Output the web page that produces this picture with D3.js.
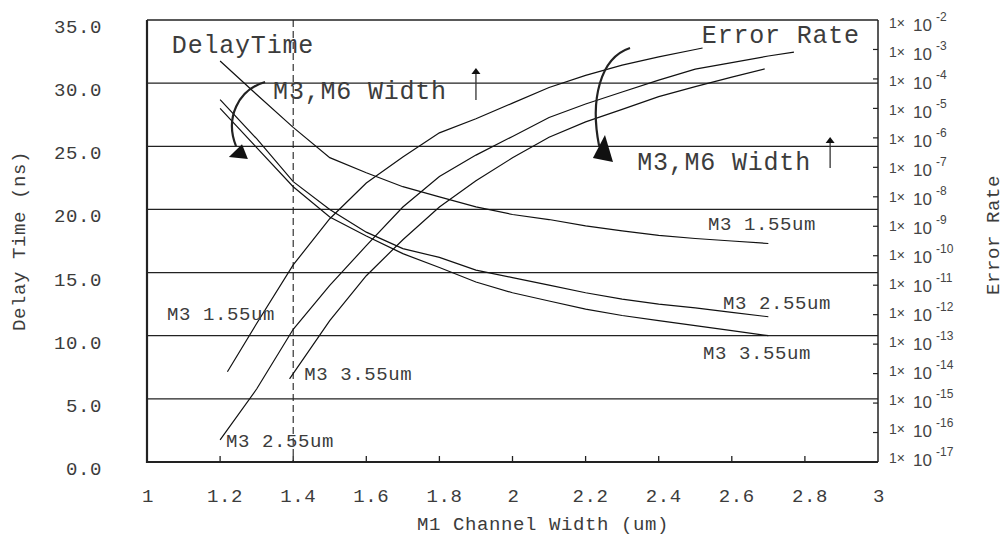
<!DOCTYPE html>
<html>
<head>
<meta charset="utf-8">
<script src="https://cdn.jsdelivr.net/npm/d3@7"></script>
<style>
  html, body { margin: 0; padding: 0; background: #fff; }
  svg { display: block; }
</style>
</head>
<body>
<svg id="chart" width="1005" height="538"></svg>
<script>
// ---- data ----------------------------------------------------------------
// M1 channel width samples (um) for the delay-time curves
const delayX = [1.2, 1.3, 1.4, 1.5, 1.6, 1.7, 1.8, 1.9, 2.0, 2.1, 2.2, 2.3, 2.4, 2.5, 2.6, 2.7];
// delay time (ns) for three M3 widths
const delay155 = [31.75, 29.1, 26.5, 24.1, 22.9, 21.8, 21.0, 20.2, 19.6, 19.2, 18.7, 18.3, 17.95, 17.7, 17.5, 17.3];
const delay255 = [28.7, 25.6, 22.2, 20.0, 18.2, 16.9, 16.2, 15.2, 14.6, 14.0, 13.4, 12.9, 12.5, 12.2, 11.85, 11.5];
const delay355 = [28.0, 24.9, 21.8, 19.4, 17.9, 16.5, 15.4, 14.25, 13.4, 12.75, 12.1, 11.6, 11.2, 10.8, 10.4, 10.0];

// error-rate curves (log scale, right axis)
const er155X = [1.22, 1.3, 1.4, 1.5, 1.6, 1.7, 1.8, 1.9, 2.0, 2.1, 2.2, 2.3, 2.4, 2.5, 2.52];
const er155 = [1.15e-14, 5.0e-13, 4.9e-11, 1.8e-9, 2.95e-8, 2.24e-7, 1.48e-6, 4.47e-6, 1.51e-5, 5.13e-5, 1.32e-4, 2.95e-4, 5.62e-4, 1.0e-3, 1.12e-3];
const er255X = [1.2, 1.3, 1.4, 1.5, 1.6, 1.7, 1.8, 1.9, 2.0, 2.1, 2.2, 2.3, 2.4, 2.5, 2.6, 2.7, 2.77];
const er255 = [5.6e-17, 3.0e-15, 3.2e-13, 9.8e-12, 2.2e-10, 4.5e-9, 4.9e-8, 2.6e-7, 1.12e-6, 4.9e-6, 1.41e-5, 3.6e-5, 9.1e-5, 2.14e-4, 3.6e-4, 6.0e-4, 8.1e-4];
const er355X = [1.39, 1.5, 1.6, 1.7, 1.8, 1.9, 2.0, 2.1, 2.2, 2.3, 2.4, 2.5, 2.6, 2.69];
const er355 = [6.6e-15, 6.3e-13, 2.1e-11, 3.5e-10, 4.5e-9, 3.5e-8, 2.1e-7, 1.05e-6, 3.5e-6, 9.3e-6, 2.5e-5, 5.5e-5, 1.15e-4, 2.2e-4];

// axis ticks
const xTicks = [1, 1.2, 1.4, 1.6, 1.8, 2, 2.2, 2.4, 2.6, 2.8, 3];
const xTickLabels = ["1", "1.2", "1.4", "1.6", "1.8", "2", "2.2", "2.4", "2.6", "2.8", "3"];
const yTicks = [0, 5, 10, 15, 20, 25, 30, 35];
const yTickLabels = ["0.0", "5.0", "10.0", "15.0", "20.0", "25.0", "30.0", "35.0"];
const erExponents = [-2, -3, -4, -5, -6, -7, -8, -9, -10, -11, -12, -13, -14, -15, -16, -17];

// reference width marker (um)
const markerWidth = 1.4;

// ---- layout ----------------------------------------------------------------
const margin = { left: 147, top: 20, right: 127, bottom: 76 };
const W = 1005, H = 538;
const iw = W - margin.left - margin.right;
const ih = H - margin.top - margin.bottom;

const MONO = '"Liberation Mono", "Courier New", Courier, monospace';
const SANS = '"Liberation Sans", Arial, Helvetica, sans-serif';
const INK = "#111";
const TXT = "#3c3c3c";

const svg = d3.select("#chart");
const g = svg.append("g").attr("transform", `translate(${margin.left},${margin.top})`);

const x = d3.scaleLinear().domain([1, 3]).range([0, iw]);
const y = d3.scaleLinear().domain([0, 35]).range([ih, 0]);
const yR = d3.scaleLog().domain([1e-17, 1e-2]).range([ih, 0]);

// ---- grid lines ----
g.append("g").selectAll("line").data(yTicks.filter(v => v > 0 && v < 35)).join("line")
  .attr("x1", 0).attr("x2", iw)
  .attr("y1", d => y(d)).attr("y2", d => y(d))
  .attr("stroke", "#222").attr("stroke-width", 1.3);

// dashed marker
g.append("line")
  .attr("x1", x(markerWidth)).attr("x2", x(markerWidth))
  .attr("y1", 0).attr("y2", ih)
  .attr("stroke", "#222").attr("stroke-width", 1.1)
  .attr("stroke-dasharray", "7,4");

// ---- frame ----
g.append("line").attr("x1", 0).attr("x2", iw).attr("y1", 0).attr("y2", 0)
  .attr("stroke", "#222").attr("stroke-width", 1.5);
g.append("line").attr("x1", iw).attr("x2", iw).attr("y1", 0).attr("y2", ih)
  .attr("stroke", "#222").attr("stroke-width", 1.5);
g.append("line").attr("x1", 0).attr("x2", 0).attr("y1", 0).attr("y2", ih + 1)
  .attr("stroke", "#222").attr("stroke-width", 2.2);
g.append("line").attr("x1", -1).attr("x2", iw).attr("y1", ih).attr("y2", ih)
  .attr("stroke", "#222").attr("stroke-width", 2.2);

// ---- bottom axis ----
const xAxis = g.append("g");
xAxis.selectAll("line").data(xTicks.slice(1, -1)).join("line")
  .attr("x1", d => x(d)).attr("x2", d => x(d))
  .attr("y1", ih).attr("y2", ih - 6)
  .attr("stroke", "#222").attr("stroke-width", 1.3);
xAxis.selectAll("text").data(xTicks).join("text")
  .attr("x", (d, i) => x(d) + (xTickLabels[i].length > 1 ? 5 : 1))
  .attr("y", ih + 40)
  .attr("text-anchor", "middle")
  .attr("font-family", MONO).attr("font-size", 19).attr("letter-spacing", 0.6)
  .attr("fill", TXT)
  .text((d, i) => xTickLabels[i]);

// ---- left axis labels ----
g.append("g").selectAll("text").data(yTicks).join("text")
  .attr("x", -45).attr("y", d => y(d) + 13)
  .attr("text-anchor", "end")
  .attr("font-family", MONO).attr("font-size", 19).attr("letter-spacing", 0.6)
  .attr("fill", TXT)
  .text((d, i) => yTickLabels[i]);

// ---- right (log) axis ----
const rAxis = g.append("g");
rAxis.selectAll("line").data(erExponents.slice(1, -1)).join("line")
  .attr("x1", iw).attr("x2", iw - 5)
  .attr("y1", d => yR(Math.pow(10, d))).attr("y2", d => yR(Math.pow(10, d)))
  .attr("stroke", "#222").attr("stroke-width", 1.2);
const rLab = rAxis.selectAll("text").data(erExponents).join("text")
  .attr("y", d => yR(Math.pow(10, d)) + 4 + 6.7 * (d + 17) / 15)
  .attr("fill", "#444").attr("font-family", SANS);
rLab.append("tspan").attr("x", iw + 11).attr("dy", -3)
  .attr("font-size", 14).text("1×");
rLab.append("tspan").attr("x", iw + 35).attr("dy", 3)
  .attr("font-size", 17).text("10");
rLab.append("tspan").attr("x", iw + 58).attr("dy", -10)
  .attr("font-size", 12).text(d => "-" + Math.abs(d));

// ---- axis titles ----
svg.append("text")
  .attr("x", 543).attr("y", 530)
  .attr("text-anchor", "middle")
  .attr("font-family", MONO).attr("font-size", 19).attr("letter-spacing", 0.6)
  .attr("fill", TXT).text("M1 Channel Width (um)");
svg.append("text")
  .attr("transform", "translate(25,241) rotate(-90)")
  .attr("text-anchor", "middle")
  .attr("font-family", MONO).attr("font-size", 19).attr("letter-spacing", 0.6)
  .attr("fill", TXT).text("Delay Time (ns)");
svg.append("text")
  .attr("transform", "translate(999,235) rotate(-90)")
  .attr("text-anchor", "middle")
  .attr("font-family", MONO).attr("font-size", 19).attr("letter-spacing", 0.6)
  .attr("fill", TXT).text("Error Rate");

// ---- curves ----
const delayLine = d3.line().x(d => x(d[0])).y(d => y(d[1]));
const erLine = d3.line().x(d => x(d[0])).y(d => yR(d[1]));
const curves = g.append("g").attr("fill", "none").attr("stroke", INK).attr("stroke-width", 1.2);
[delay155, delay255, delay355].forEach(series => {
  curves.append("path").attr("d", delayLine(delayX.map((v, i) => [v, series[i]])));
});
[[er155X, er155], [er255X, er255], [er355X, er355]].forEach(([xs, vs]) => {
  curves.append("path").attr("d", erLine(xs.map((v, i) => [v, vs[i]])));
});

// ---- annotations (positions in data units: um, ns) ----
const bigLabels = [
  { t: "DelayTime", xv: 1.068, yv: 32.39 },
  { t: "Error Rate", xv: 2.518, yv: 33.18 },
  { t: "M3,M6 Width", xv: 1.345, yv: 28.74 },
  { t: "M3,M6 Width", xv: 2.341, yv: 23.12 }
];
g.append("g").selectAll("text").data(bigLabels).join("text")
  .attr("x", d => x(d.xv)).attr("y", d => y(d.yv))
  .attr("font-family", MONO).attr("font-size", 25).attr("letter-spacing", 0.8)
  .attr("fill", TXT).text(d => d.t);

const curveLabels = [
  { t: "M3 1.55um", xv: 2.535, yv: 18.37 },
  { t: "M3 2.55um", xv: 2.576, yv: 12.11 },
  { t: "M3 3.55um", xv: 2.521, yv: 8.16 },
  { t: "M3 1.55um", xv: 1.055, yv: 11.24 },
  { t: "M3 3.55um", xv: 1.430, yv: 6.49 },
  { t: "M3 2.55um", xv: 1.216, yv: 1.19 }
];
g.append("g").selectAll("text").data(curveLabels).join("text")
  .attr("x", d => x(d.xv)).attr("y", d => y(d.yv))
  .attr("font-family", MONO).attr("font-size", 19).attr("letter-spacing", 0.6)
  .attr("fill", TXT).text(d => d.t);

// straight "increase" arrows
const upArrows = [
  { xv: 1.900, y0: 28.66, y1: 31.20 },
  { xv: 2.869, y0: 23.28, y1: 25.73 }
];
upArrows.forEach(a => {
  const px = x(a.xv), p0 = y(a.y0), p1 = y(a.y1);
  g.append("line").attr("x1", px).attr("x2", px).attr("y1", p0).attr("y2", p1 + 4)
    .attr("stroke", "#333").attr("stroke-width", 1.3);
  g.append("path").attr("d", `M${px},${p1} L${px - 4.5},${p1 + 6} L${px + 4.5},${p1 + 6} Z`)
    .attr("fill", "#111");
});

// curved arrows showing the M3,M6 width trend
const bendArrows = [
  { s: [1.323, 30.09], c1: [1.249, 29.46], c2: [1.213, 27.24], e: [1.2435, 25.02],
    head: [[1.276, 23.99], [1.224, 24.15], [1.260, 25.17]] },
  { s: [2.3215, 32.78], c1: [2.239, 31.99], c2: [2.212, 28.66], e: [2.237, 25.02],
    head: [[2.275, 23.75], [2.220, 24.07], [2.253, 25.89]] }
];
const P = p => `${x(p[0])},${y(p[1])}`;
bendArrows.forEach(a => {
  g.append("path")
    .attr("d", `M${P(a.s)} C${P(a.c1)} ${P(a.c2)} ${P(a.e)}`)
    .attr("fill", "none").attr("stroke", "#222").attr("stroke-width", 2.2);
  g.append("path")
    .attr("d", `M${P(a.head[0])} L${P(a.head[1])} L${P(a.head[2])} Z`)
    .attr("fill", "#111");
});
</script>
</body>
</html>
